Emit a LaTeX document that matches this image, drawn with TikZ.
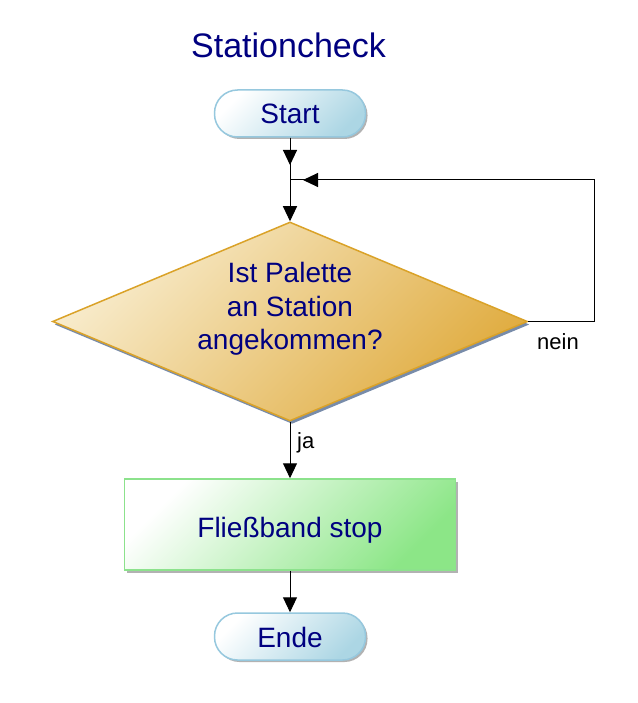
\documentclass[tikz,border=0pt]{standalone}
\usepackage{fontspec}
\setmainfont{Liberation Sans}
\usetikzlibrary{shapes.geometric,arrows.meta,shadows}
\definecolor{txtblue}{RGB}{0,0,128}
\definecolor{pillfill}{RGB}{172,214,228}
\definecolor{pillline}{RGB}{150,200,222}
\definecolor{decfillA}{RGB}{248,236,205}
\definecolor{decfillB}{RGB}{224,172,64}
\definecolor{decline}{RGB}{218,162,40}
\definecolor{decshadow}{RGB}{120,140,170}
\definecolor{boxfillB}{RGB}{140,230,135}
\definecolor{boxline}{RGB}{140,226,140}
\begin{document}
\begin{tikzpicture}[x=1pt,y=-1pt,
  bodyfont/.style={font=\fontsize{28}{33.5}\selectfont},
  lblfont/.style={font=\fontsize{22}{26}\selectfont},
  terminal/.style={rectangle, rounded corners=23pt, minimum width=151pt, minimum height=47pt,
    draw=pillline, line width=1.5pt, top color=white, bottom color=pillfill, shading angle=45,
    text=txtblue, bodyfont, text height=21pt, text depth=0pt, inner sep=0pt,
    general shadow={fill=black!30, shadow xshift=2pt, shadow yshift=-2pt}},
  decision/.style={diamond, minimum width=475pt, minimum height=199pt, inner sep=0pt,
    draw=decline, line width=1.5pt, top color=decfillA, bottom color=decfillB, shading angle=45,
    general shadow={fill=decshadow, shadow xshift=2pt, shadow yshift=-3pt}},
  process/.style={rectangle, minimum width=331pt, minimum height=91pt, inner sep=0pt,
    draw=boxline, line width=1.5pt, top color=white, bottom color=boxfillB, shading angle=45,
    text=txtblue, bodyfont, text height=25pt, text depth=0pt,
    general shadow={fill=black!30, shadow xshift=2pt, shadow yshift=-3pt}},
  conn/.style={draw=black, line width=1pt},
  arr/.style={conn, -{Triangle[length=15pt,width=14pt]}},
  lbl/.style={lblfont, text=black, inner sep=0pt}
]
\useasboundingbox (0,0) rectangle (637,703);
\fill[white] (0,0) rectangle (637,703);

\node[anchor=base, text=txtblue, font=\fontsize{34}{40}\selectfont, inner sep=0pt] (title) at (288.5,58) {Stationcheck};

\node[terminal] (start) at (290,113.5) {Start};
\coordinate (j) at (290,180);
\node[decision] (dec) at (290,321.5) {};
\node[bodyfont, text=txtblue, align=center, inner sep=0pt] (dectext) at (290,309) {Ist Palette\\an Station\\angekommen?};
\node[process] (box) at (290,524.5) {Flie\ss band stop};
\node[terminal] (ende) at (290,636.5) {Ende};

\coordinate (lr) at (594,321.5);
\coordinate (ur) at (594,180);

\draw[conn] (start.south) -- (j);
\draw[arr, shorten >=15pt] (start.south) -- (j);
\draw[arr] (j) -- (dec.north);
\draw[conn] (dec.east) -- (lr) -- (ur) -- (j);
\draw[arr, shorten >=13pt] (ur) -- (j);
\draw[arr] (dec.south) -- (box.north);
\draw[arr] (box.south) -- (ende.north);

\node[lbl, anchor=base west] (nein) at (537,349) {nein};
\node[lbl, anchor=base west] (ja) at (297,448) {ja};
\end{tikzpicture}
\end{document}
